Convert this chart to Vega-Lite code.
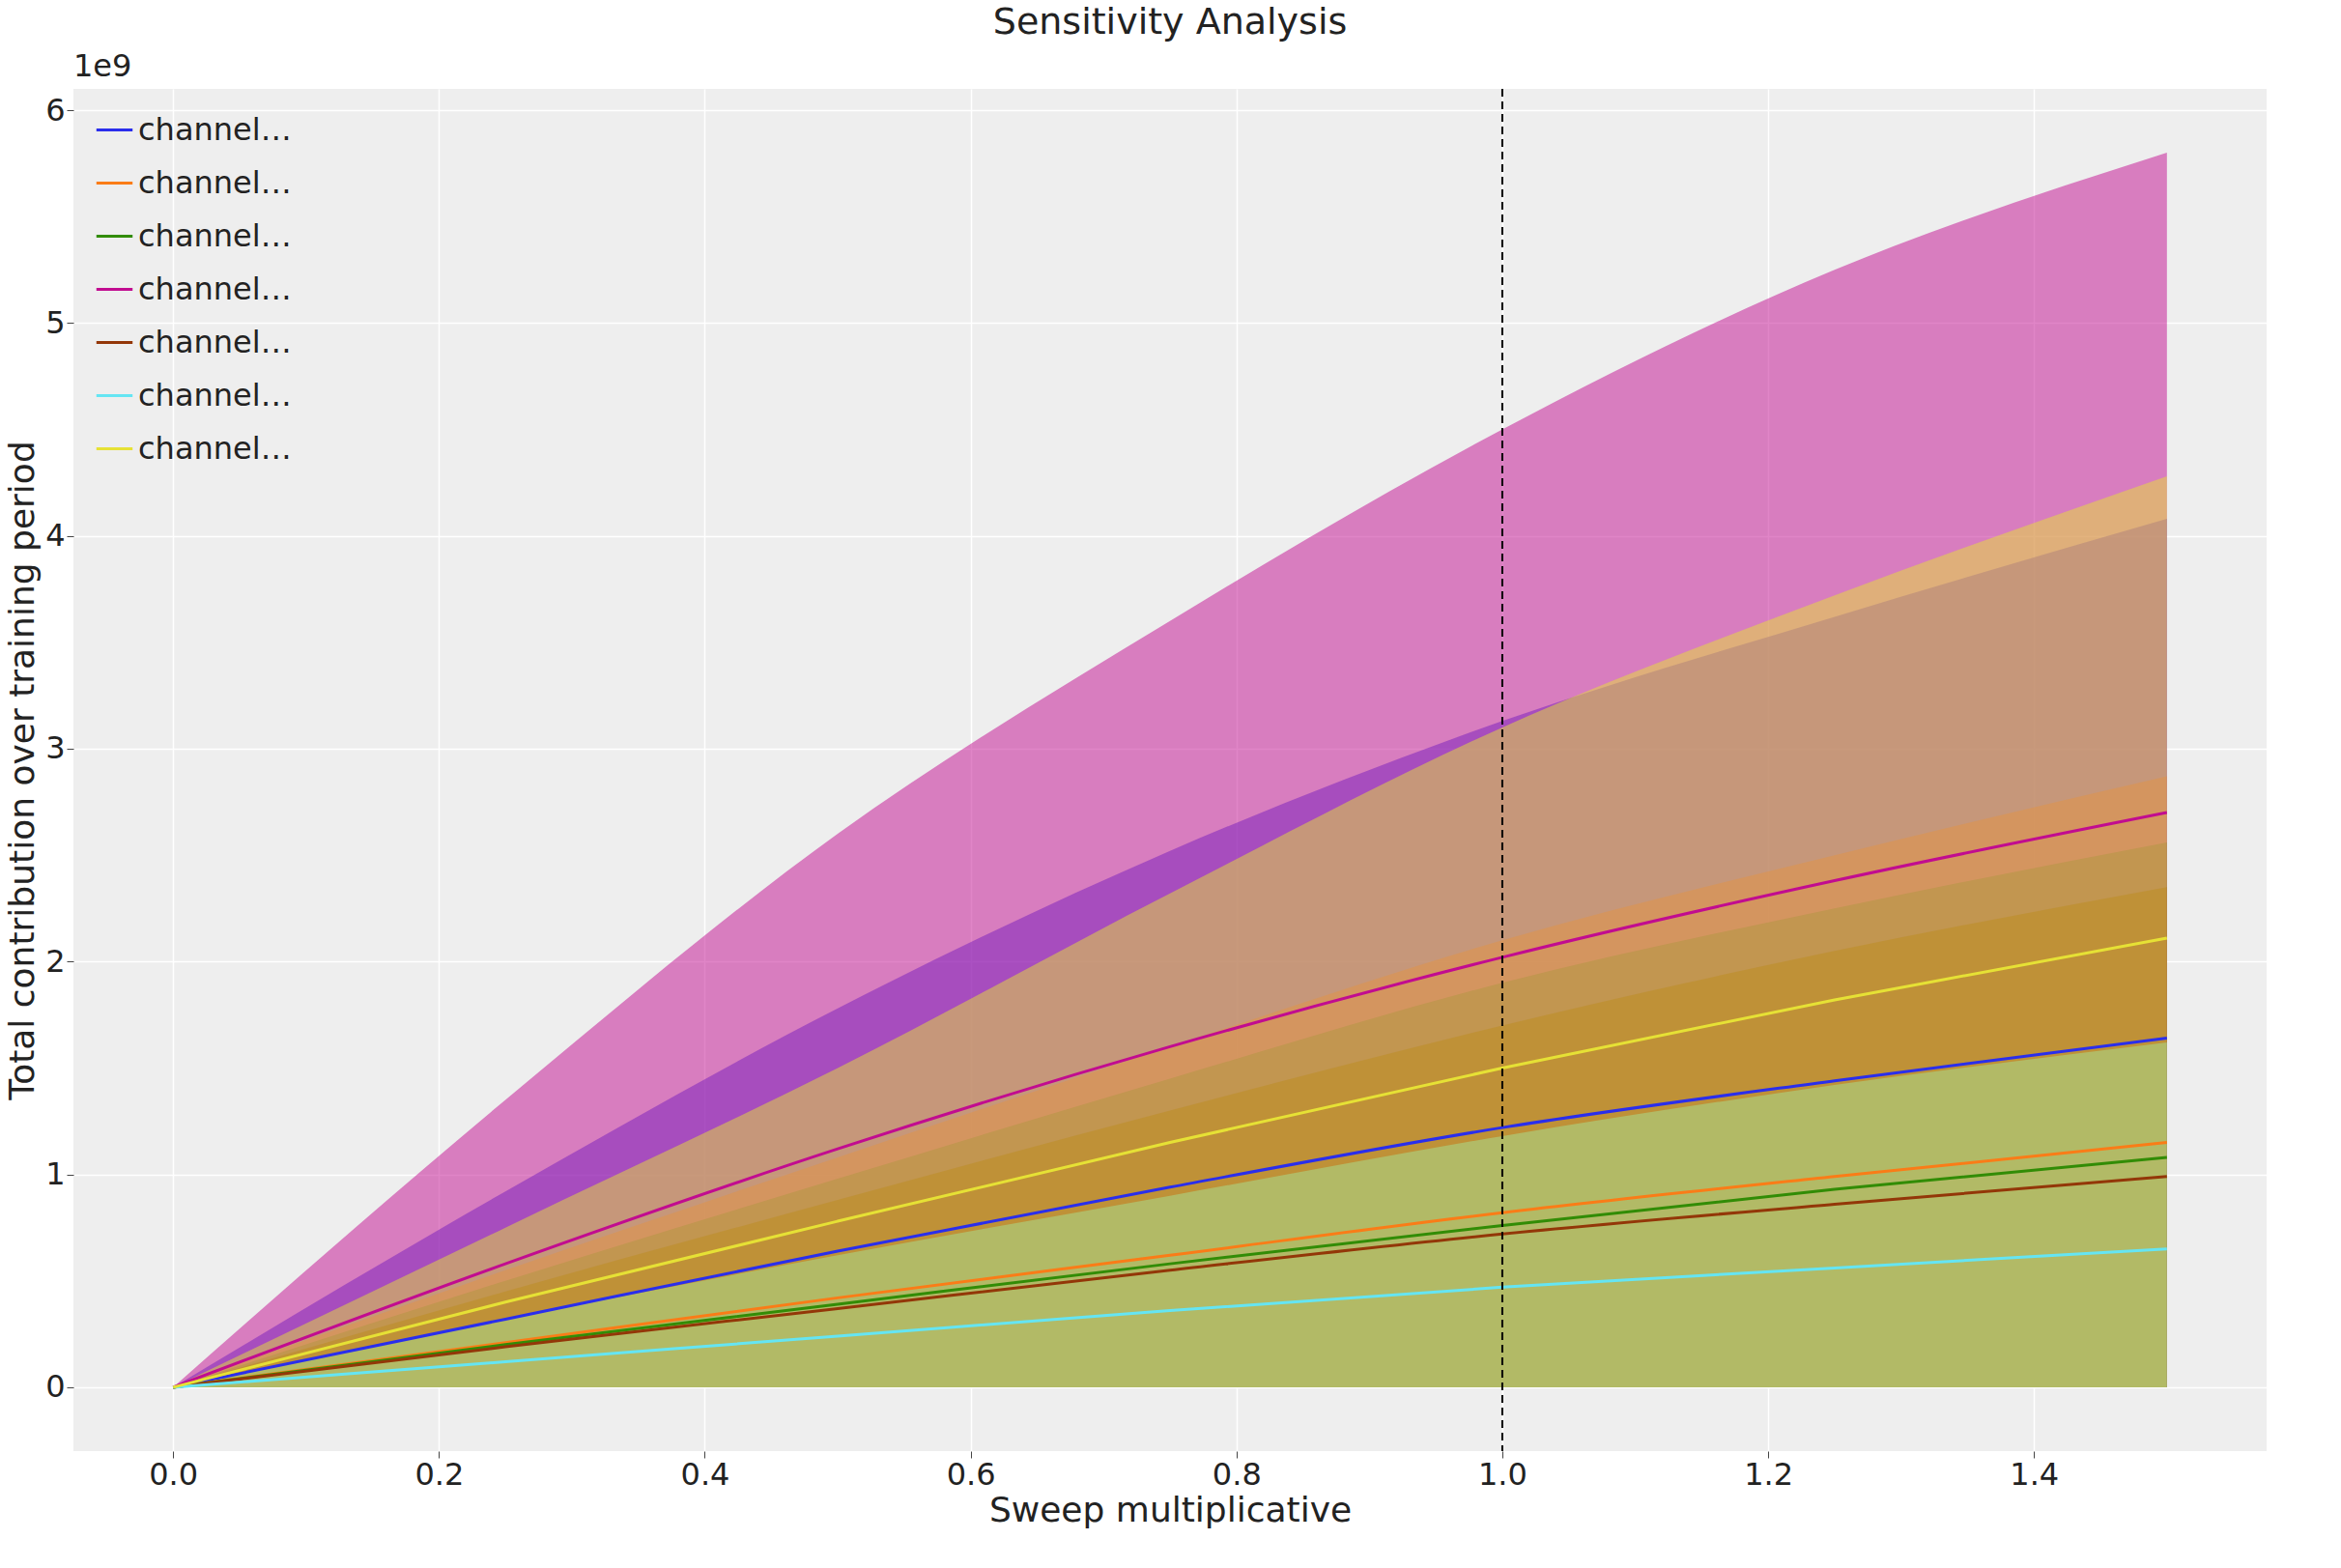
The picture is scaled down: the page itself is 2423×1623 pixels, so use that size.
{
  "$schema": "https://vega.github.io/schema/vega-lite/v6.json",
  "width": 2270,
  "height": 1410,
  "background": "white",
  "title": {"text": "Sensitivity Analysis", "fontSize": 38, "font": "DejaVu Sans", "fontWeight": "normal", "color": "#222222", "offset": 10},
  "config": {
    "view": {"fill": "#eeeeee", "stroke": null},
    "font": "DejaVu Sans",
    "axis": {"gridColor": "white", "gridWidth": 1.5, "domain": false, "tickColor": "#444444", "labelFontSize": 32, "titleFontSize": 36, "titleFontWeight": "normal", "labelColor": "#222222", "titleColor": "#222222", "tickSize": 7}
  },
  "data": {"values": [
    {"x":0,"ch":"Direct Mail","m":0,"lo":0,"hi":0},
    {"x":0.25,"ch":"Direct Mail","m":0.32e9,"lo":0,"hi":0.92e9},
    {"x":0.5,"ch":"Direct Mail","m":0.64e9,"lo":0,"hi":1.78e9},
    {"x":0.75,"ch":"Direct Mail","m":0.94e9,"lo":0,"hi":2.52e9},
    {"x":1.0,"ch":"Direct Mail","m":1.22e9,"lo":0,"hi":3.13e9},
    {"x":1.25,"ch":"Direct Mail","m":1.44e9,"lo":0,"hi":3.62e9},
    {"x":1.5,"ch":"Direct Mail","m":1.64e9,"lo":0,"hi":4.08e9},
    {"x":0,"ch":"Insert","m":0,"lo":0,"hi":0},
    {"x":0.25,"ch":"Insert","m":0.21e9,"lo":0,"hi":0.55e9},
    {"x":0.5,"ch":"Insert","m":0.42e9,"lo":0,"hi":1.08e9},
    {"x":0.75,"ch":"Insert","m":0.62e9,"lo":0,"hi":1.6e9},
    {"x":1.0,"ch":"Insert","m":0.82e9,"lo":0,"hi":2.1e9},
    {"x":1.25,"ch":"Insert","m":0.99e9,"lo":0,"hi":2.5e9},
    {"x":1.5,"ch":"Insert","m":1.15e9,"lo":0,"hi":2.87e9},
    {"x":0,"ch":"Newspaper","m":0,"lo":0,"hi":0},
    {"x":0.25,"ch":"Newspaper","m":0.2e9,"lo":0,"hi":0.5e9},
    {"x":0.5,"ch":"Newspaper","m":0.39e9,"lo":0,"hi":0.98e9},
    {"x":0.75,"ch":"Newspaper","m":0.58e9,"lo":0,"hi":1.45e9},
    {"x":1.0,"ch":"Newspaper","m":0.76e9,"lo":0,"hi":1.9e9},
    {"x":1.25,"ch":"Newspaper","m":0.93e9,"lo":0,"hi":2.25e9},
    {"x":1.5,"ch":"Newspaper","m":1.08e9,"lo":0,"hi":2.56e9},
    {"x":0,"ch":"Online Display","m":0,"lo":0,"hi":0},
    {"x":0.25,"ch":"Online Display","m":0.58e9,"lo":0,"hi":1.35e9},
    {"x":0.5,"ch":"Online Display","m":1.12e9,"lo":0,"hi":2.6e9},
    {"x":0.75,"ch":"Online Display","m":1.6e9,"lo":0,"hi":3.6e9},
    {"x":1.0,"ch":"Online Display","m":2.02e9,"lo":0,"hi":4.5e9},
    {"x":1.25,"ch":"Online Display","m":2.38e9,"lo":0,"hi":5.25e9},
    {"x":1.5,"ch":"Online Display","m":2.7e9,"lo":0,"hi":5.8e9},
    {"x":0,"ch":"Radio","m":0,"lo":0,"hi":0},
    {"x":0.25,"ch":"Radio","m":0.19e9,"lo":0,"hi":0.45e9},
    {"x":0.5,"ch":"Radio","m":0.37e9,"lo":0,"hi":0.88e9},
    {"x":0.75,"ch":"Radio","m":0.55e9,"lo":0,"hi":1.3e9},
    {"x":1.0,"ch":"Radio","m":0.72e9,"lo":0,"hi":1.7e9},
    {"x":1.25,"ch":"Radio","m":0.86e9,"lo":0,"hi":2.05e9},
    {"x":1.5,"ch":"Radio","m":0.99e9,"lo":0,"hi":2.35e9},
    {"x":0,"ch":"Social Media","m":0,"lo":0,"hi":0},
    {"x":0.25,"ch":"Social Media","m":0.12e9,"lo":0,"hi":0.32e9},
    {"x":0.5,"ch":"Social Media","m":0.24e9,"lo":0,"hi":0.62e9},
    {"x":0.75,"ch":"Social Media","m":0.36e9,"lo":0,"hi":0.9e9},
    {"x":1.0,"ch":"Social Media","m":0.47e9,"lo":0,"hi":1.18e9},
    {"x":1.25,"ch":"Social Media","m":0.56e9,"lo":0,"hi":1.42e9},
    {"x":1.5,"ch":"Social Media","m":0.65e9,"lo":0,"hi":1.62e9},
    {"x":0,"ch":"TV","m":0,"lo":0,"hi":0},
    {"x":0.25,"ch":"TV","m":0.4e9,"lo":0,"hi":0.75e9},
    {"x":0.5,"ch":"TV","m":0.78e9,"lo":0,"hi":1.5e9},
    {"x":0.75,"ch":"TV","m":1.15e9,"lo":0,"hi":2.32e9},
    {"x":1.0,"ch":"TV","m":1.5e9,"lo":0,"hi":3.1e9},
    {"x":1.25,"ch":"TV","m":1.82e9,"lo":0,"hi":3.72e9},
    {"x":1.5,"ch":"TV","m":2.11e9,"lo":0,"hi":4.28e9}
  ]},
  "encoding": {
    "x": {"field": "x", "type": "quantitative", "title": "Sweep multiplicative",
      "scale": {"domain": [-0.075, 1.575], "nice": false, "zero": false},
      "axis": {"values": [0, 0.2, 0.4, 0.6, 0.8, 1.0, 1.2, 1.4], "format": ".1f"}}
  },
  "layer": [
    {
      "mark": {"type": "area", "opacity": 0.5, "interpolate": "monotone"},
      "encoding": {
        "y": {"field": "hi", "type": "quantitative", "title": "Total contribution over training period",
          "scale": {"domain": [-0.3e9, 6.1e9], "nice": false},
          "axis": {"values": [0, 1e9, 2e9, 3e9, 4e9, 5e9, 6e9], "labelExpr": "format(datum.value/1e9, 'd')"}},
        "y2": {"field": "lo"},
        "color": {"field": "ch", "type": "nominal",
          "scale": {"domain": ["Direct Mail","Insert","Newspaper","Online Display","Radio","Social Media","TV"],
            "range": ["#2a2eec","#fa7c17","#328c06","#c10c90","#933708","#65e5f3","#e6e135"]},
          "legend": {"title": null, "orient": "top-left", "symbolType": "stroke", "symbolStrokeWidth": 3, "symbolSize": 1400, "symbolOpacity": 1,
            "labelFontSize": 32, "labelColor": "#222222", "labelExpr": "'channel=' + datum.label", "rowPadding": 18, "offset": 22}}
      }
    },
    {
      "mark": {"type": "line", "strokeWidth": 3, "interpolate": "monotone"},
      "encoding": {
        "y": {"field": "m", "type": "quantitative"},
        "color": {"field": "ch", "type": "nominal"}
      }
    },
    {
      "data": {"values": [{"v": 1.0}]},
      "mark": {"type": "rule", "color": "black", "strokeDash": [8, 5], "strokeWidth": 2},
      "encoding": {"x": {"field": "v", "type": "quantitative"}}
    },
    {
      "data": {"values": [{"tx": -0.075, "ty": 6.1e9, "t": "1e9"}]},
      "mark": {"type": "text", "align": "left", "baseline": "bottom", "fontSize": 32, "dy": -6, "clip": false, "color": "#222222"},
      "encoding": {"x": {"field": "tx", "type": "quantitative"}, "y": {"field": "ty", "type": "quantitative"}, "text": {"field": "t"}}
    }
  ]
}
